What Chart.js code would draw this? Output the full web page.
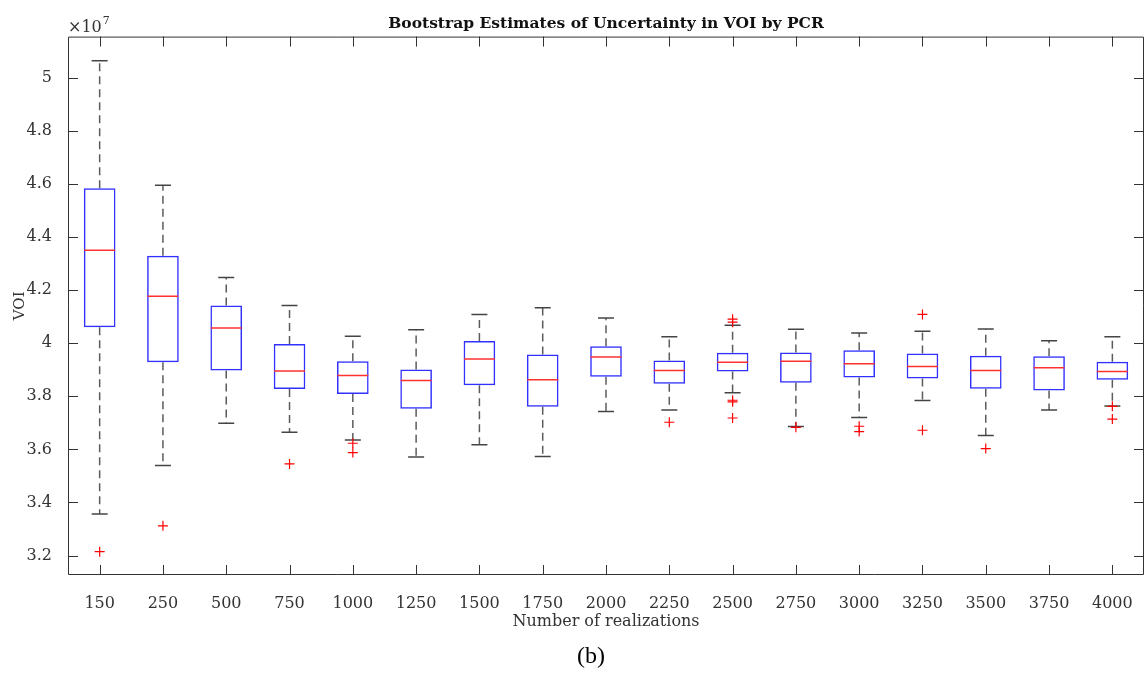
<!DOCTYPE html>
<html>
<head>
<meta charset="utf-8">
<script src="https://cdn.jsdelivr.net/npm/chart.js@4.4.1/dist/chart.umd.min.js"></script>
<style>
  html, body { margin: 0; padding: 0; background: #fff; overflow: hidden; }
  #wrap { width: 1145px; height: 673px; position: relative; }
  canvas { display: block; }
</style>
</head>
<body>
<div id="wrap"><canvas id="voiChart" width="1145" height="673"></canvas></div>
<script>
// boxplot of VOI bootstrap estimates (values in units of 1e7)
const realizations = ['150', '250', '500', '750', '1000', '1250', '1500', '1750', '2000',
  '2250', '2500', '2750', '3000', '3250', '3500', '3750', '4000'];

const whiskerHigh = [5.063, 4.594, 4.247, 4.142, 4.026, 4.050, 4.108, 4.133, 4.095,
  4.024, 4.067, 4.052, 4.038, 4.045, 4.053, 4.009, 4.024];
const upperQuartile = [4.583, 4.329, 4.142, 3.997, 3.932, 3.901, 4.008, 3.957, 3.988,
  3.935, 3.964, 3.965, 3.973, 3.961, 3.952, 3.951, 3.930];
const medians = [4.350, 4.176, 4.057, 3.895, 3.878, 3.859, 3.940, 3.862, 3.948,
  3.897, 3.928, 3.932, 3.922, 3.912, 3.897, 3.907, 3.893];
const lowerQuartile = [4.060, 3.928, 3.897, 3.827, 3.808, 3.753, 3.841, 3.760, 3.873,
  3.847, 3.893, 3.851, 3.871, 3.867, 3.828, 3.822, 3.862];
const whiskerLow = [3.357, 3.539, 3.698, 3.664, 3.635, 3.571, 3.617, 3.573, 3.743,
  3.748, 3.813, 3.686, 3.720, 3.784, 3.652, 3.748, 3.763];

// outliers: category + value
const outlierCat = ['150', '250', '750', '1000', '1000', '2250', '2500', '2500', '2500',
  '2500', '2500', '2750', '3000', '3000', '3250', '3250', '3500', '4000', '4000'];
const outlierVal = [3.215, 3.312, 3.545, 3.623, 3.588, 3.702, 4.090, 4.079, 3.785,
  3.779, 3.718, 3.683, 3.687, 3.667, 4.108, 3.672, 3.603, 3.762, 3.714];

const yTicks = [3.2, 3.4, 3.6, 3.8, 4, 4.2, 4.4, 4.6, 4.8, 5];

const axisColor = '#333333';
const tickFont = { family: 'DejaVu Serif', size: 16 };

// dashed whisker stems, broken with null between categories
const stemPoints = [];
realizations.forEach((c, i) => {
  stemPoints.push({ x: c, y: upperQuartile[i] }, { x: c, y: whiskerHigh[i] }, { x: c, y: null });
  stemPoints.push({ x: c, y: lowerQuartile[i] }, { x: c, y: whiskerLow[i] }, { x: c, y: null });
});
const capPoints = realizations.flatMap((c, i) => [{ x: c, y: whiskerHigh[i] }, { x: c, y: whiskerLow[i] }]);

// frame with inward ticks on all four sides, plus the exponent and the caption
const framePlugin = {
  id: 'frame',
  afterDraw(chart) {
    const { ctx, chartArea: a, scales } = chart;
    const xs = scales.x, ys = scales.y;
    const tl = 10;
    ctx.save();
    ctx.strokeStyle = axisColor;
    ctx.lineWidth = 1;
    ctx.beginPath();
    ctx.rect(a.left + 0.5, a.top + 0.5, a.right - a.left - 1, a.bottom - a.top - 1);
    xs.ticks.forEach((t, i) => {
      const px = Math.round(xs.getPixelForTick(i)) + 0.5;
      ctx.moveTo(px, a.bottom); ctx.lineTo(px, a.bottom - tl);
      ctx.moveTo(px, a.top); ctx.lineTo(px, a.top + tl);
    });
    ys.ticks.forEach(t => {
      const py = Math.round(ys.getPixelForValue(t.value)) + 0.5;
      ctx.moveTo(a.left, py); ctx.lineTo(a.left + tl, py);
      ctx.moveTo(a.right, py); ctx.lineTo(a.right - tl, py);
    });
    ctx.stroke();

    ctx.fillStyle = axisColor;
    ctx.textBaseline = 'alphabetic';
    ctx.textAlign = 'left';
    ctx.font = '16px "DejaVu Serif"';
    ctx.fillText('\u00d710', a.left, 32);
    const w = ctx.measureText('\u00d710').width;
    ctx.font = '11px "DejaVu Serif"';
    ctx.fillText('7', a.left + w + 1, 24);

    ctx.fillStyle = '#000';
    ctx.textAlign = 'center';
    ctx.font = '24px "Liberation Serif"';
    ctx.fillText('(b)', 591, 663);
    ctx.restore();
  }
};

const ctxVoi = document.getElementById('voiChart').getContext('2d');
const voiChart = new Chart(ctxVoi, {
  type: 'bar',
  data: {
    labels: realizations,
    datasets: [
      {
        type: 'line',
        label: 'Outliers',
        data: outlierCat.map((c, i) => ({ x: c, y: outlierVal[i] })),
        showLine: false,
        pointStyle: 'cross',
        pointRadius: 5,
        pointHoverRadius: 5,
        pointBorderColor: '#ff0000',
        pointBorderWidth: 1.2
      },
      {
        type: 'line',
        label: 'Median',
        data: realizations.map((c, i) => ({ x: c, y: medians[i] })),
        showLine: false,
        pointStyle: 'line',
        pointRadius: 15.5,
        pointHoverRadius: 15.5,
        pointBorderColor: '#ff3030',
        pointBorderWidth: 1.5
      },
      {
        type: 'bar',
        label: 'Box',
        data: realizations.map((c, i) => [lowerQuartile[i], upperQuartile[i]]),
        backgroundColor: 'rgba(0,0,0,0)',
        borderColor: '#3030ff',
        borderWidth: 1.5,
        borderSkipped: false,
        barPercentage: 0.5,
        categoryPercentage: 1
      },
      {
        type: 'line',
        label: 'Caps',
        data: capPoints,
        showLine: false,
        pointStyle: 'line',
        pointRadius: 8,
        pointHoverRadius: 8,
        pointBorderColor: '#444444',
        pointBorderWidth: 1.5
      },
      {
        type: 'line',
        label: 'Whiskers',
        data: stemPoints,
        spanGaps: false,
        borderColor: 'rgba(50,50,50,0.8)',
        borderWidth: 1.5,
        borderDash: [8, 5],
        pointRadius: 0,
        pointHoverRadius: 0
      }
    ]
  },
  options: {
    responsive: false,
    animation: false,
    layout: { autoPadding: false, padding: { left: 0, right: 1, top: 0, bottom: 0 } },
    plugins: {
      legend: { display: false },
      tooltip: { enabled: false },
      title: {
        display: true,
        fullSize: false,
        text: 'Bootstrap Estimates of Uncertainty in VOI by PCR',
        color: '#111',
        font: { family: 'DejaVu Serif', size: 15.5, weight: 'bold' },
        padding: { top: 15, bottom: 3 }
      }
    },
    scales: {
      x: {
        type: 'category',
        offset: true,
        grid: { display: false },
        border: { display: false },
        ticks: { color: axisColor, font: tickFont, padding: 11, maxRotation: 0 },
        title: {
          display: true,
          text: 'Number of realizations',
          color: axisColor,
          font: { family: 'DejaVu Serif', size: 16 },
          padding: { top: 0, bottom: 42 }
        },
        afterFit(scale) {
          scale.height = 98;
          scale.paddingLeft = 0;
          scale.paddingRight = 0;
        }
      },
      y: {
        min: 3.127,
        max: 5.154,
        grid: { display: false },
        border: { display: false },
        afterBuildTicks(scale) { scale.ticks = yTicks.map(v => ({ value: v })); },
        ticks: {
          color: axisColor,
          font: tickFont,
          padding: 8,
          callback: v => String(+v.toFixed(1))
        },
        title: {
          display: true,
          text: 'VOI',
          color: axisColor,
          font: { family: 'DejaVu Serif', size: 15 },
          padding: { top: 11, bottom: 11 }
        },
        afterFit(scale) {
          scale.width = 68;
          scale.paddingTop = 0;
          scale.paddingBottom = 0;
        }
      }
    }
  },
  plugins: [framePlugin]
});
</script>
</body>
</html>
